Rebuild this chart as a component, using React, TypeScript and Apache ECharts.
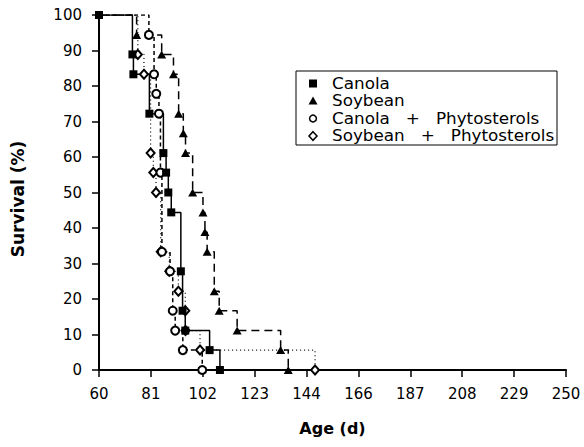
import React, { useEffect, useRef } from "react";
import * as echarts from "echarts";

// Age axis: 60..250 days in 9 equal steps (labels rounded)
const AGE_MIN = 60;
const AGE_MAX = 250;
const AGE_STEPS = 9;

const canolaAge = [60, 73.6, 74.0, 80.5, 86.2, 87.3, 88.2, 89.4, 93.3, 94.0, 95.1, 105.0, 109.2];
const canolaSurv = [100, 88.9, 83.3, 72.2, 61.1, 55.6, 50.0, 44.4, 27.8, 16.7, 11.1, 5.6, 0];

const soyAge = [60, 75.3, 85.5, 90.3, 92.4, 94.3, 95.2, 98.1, 102.3, 103.1, 104.0, 106.9, 108.9, 116.2, 133.9, 137.0];
const soySurv = [100, 94.4, 88.9, 83.3, 72.2, 66.7, 61.1, 50.0, 44.4, 38.9, 33.3, 22.2, 16.7, 11.1, 5.6, 0];

const canolaPhytoAge = [60, 80.3, 82.4, 83.3, 84.4, 85.0, 85.6, 88.9, 90.0, 91.0, 94.1, 102.0];
const canolaPhytoSurv = [100, 94.4, 83.3, 77.8, 72.2, 55.6, 33.3, 27.8, 16.7, 11.1, 5.6, 0];

const soyPhytoAge = [60, 75.8, 78.3, 81.0, 82.1, 83.2, 85.1, 88.6, 92.3, 95.1, 95.2, 101.1, 147.9];
const soyPhytoSurv = [100, 88.9, 83.3, 61.1, 55.6, 50.0, 33.3, 27.8, 22.2, 16.7, 11.1, 5.6, 0];

const names = ["Canola", "Soybean", "Canola   +   Phytosterols", "Soybean   +   Phytosterols"];

const toUnit = (age: number) => ((age - AGE_MIN) / (AGE_MAX - AGE_MIN)) * AGE_STEPS;

const build = (ages: number[], surv: number[], hideFirst: boolean) =>
  ages.map((a, i) =>
    i === 0 && hideFirst
      ? { value: [toUnit(a), surv[i]], symbol: "none" }
      : { value: [toUnit(a), surv[i]] }
  );

const FONT = "DejaVu Sans";

// legend layout
const LX = 296;
const LY = 71;
const LW = 261;
const LH = 74;
const ROWS = [83.5, 101, 118.5, 136];
const ICON_X = 313;
const TEXT_X = 332;

export default function App() {
  const ref = useRef<HTMLDivElement>(null);
  useEffect(() => {
    if (!ref.current) return;
    const chart = echarts.init(ref.current, null, { renderer: "svg" });
    const legendGraphics: any[] = [
      {
        type: "rect",
        z: 100,
        shape: { x: LX, y: LY, width: LW, height: LH },
        style: { fill: "#fff", stroke: "#000", lineWidth: 1 },
      },
      {
        type: "rect",
        z: 101,
        shape: { x: ICON_X - 4, y: ROWS[0] - 4, width: 8, height: 8 },
        style: { fill: "#000" },
      },
      {
        type: "polygon",
        z: 101,
        shape: {
          points: [
            [ICON_X, ROWS[1] - 4.5],
            [ICON_X + 4.5, ROWS[1] + 3.5],
            [ICON_X - 4.5, ROWS[1] + 3.5],
          ],
        },
        style: { fill: "#000" },
      },
      {
        type: "circle",
        z: 101,
        shape: { cx: ICON_X, cy: ROWS[2], r: 3.4 },
        style: { fill: "#fff", stroke: "#000", lineWidth: 1.5 },
      },
      {
        type: "polygon",
        z: 101,
        shape: {
          points: [
            [ICON_X, ROWS[3] - 4.3],
            [ICON_X + 4, ROWS[3]],
            [ICON_X, ROWS[3] + 4.3],
            [ICON_X - 4, ROWS[3]],
          ],
        },
        style: { fill: "#fff", stroke: "#000", lineWidth: 1.5 },
      },
      ...names.map((n, i) => ({
        type: "text",
        z: 101,
        x: TEXT_X,
        y: ROWS[i],
        scaleX: 1.12,
        style: {
          text: n,
          fill: "#000",
          fontSize: 15,
          fontFamily: FONT,
          verticalAlign: "middle",
          align: "left",
        },
      })),
    ];
    const option: any = {
      animation: false,
      backgroundColor: "#fff",
      textStyle: { fontFamily: FONT, color: "#000" },
      grid: { left: 99, right: 18, top: 15, bottom: 77, containLabel: false },
      graphic: legendGraphics,
      xAxis: {
        type: "value",
        min: 0,
        max: AGE_STEPS,
        interval: 1,
        name: "Age (d)",
        nameLocation: "middle",
        nameGap: 50,
        nameTextStyle: { fontSize: 16, fontWeight: "bold", color: "#000", fontFamily: FONT },
        axisLine: { show: true, lineStyle: { color: "#000", width: 2 } },
        axisTick: { show: true, length: 7, lineStyle: { color: "#000", width: 1.5 } },
        axisLabel: {
          fontSize: 15,
          color: "#000",
          margin: 16,
          fontFamily: FONT,
          formatter: (v: number) => String(Math.round(AGE_MIN + (v * (AGE_MAX - AGE_MIN)) / AGE_STEPS)),
        },
        splitLine: { show: false },
      },
      yAxis: {
        type: "value",
        min: 0,
        max: 100,
        interval: 10,
        name: "Survival (%)",
        nameLocation: "middle",
        nameGap: 73,
        nameTextStyle: {
          fontSize: 17,
          fontWeight: "bold",
          color: "#000",
          fontFamily: FONT,
          padding: [0, 13, 0, 0],
        },
        axisLine: { show: true, lineStyle: { color: "#000", width: 2 } },
        axisTick: { show: true, length: 7, lineStyle: { color: "#000", width: 1.5 } },
        axisLabel: { fontSize: 15, color: "#000", margin: 17, fontFamily: FONT },
        splitLine: { show: false },
      },
      series: [
        {
          name: names[3],
          type: "line",
          step: "end",
          data: build(soyPhytoAge, soyPhytoSurv, true),
          symbol: "emptyDiamond",
          symbolSize: [8, 9],
          lineStyle: { color: "#000", width: 1.2, type: [1, 3] },
          itemStyle: { color: "#000", borderColor: "#000", borderWidth: 1.5 },
        },
        {
          name: names[2],
          type: "line",
          step: "end",
          data: build(canolaPhytoAge, canolaPhytoSurv, true),
          symbol: "emptyCircle",
          symbolSize: 8,
          lineStyle: { color: "#000", width: 1.5, type: [4, 3] },
          itemStyle: { color: "#000", borderColor: "#000", borderWidth: 1.5 },
        },
        {
          name: names[1],
          type: "line",
          step: "end",
          data: build(soyAge, soySurv, true),
          symbol: "triangle",
          symbolSize: [9, 8],
          lineStyle: { color: "#000", width: 1.5, type: [8, 5] },
          itemStyle: { color: "#000", borderColor: "#000", borderWidth: 0 },
        },
        {
          name: names[0],
          type: "line",
          step: "end",
          data: build(canolaAge, canolaSurv, false),
          symbol: "rect",
          symbolSize: 8,
          lineStyle: { color: "#000", width: 1.5, type: "solid" },
          itemStyle: { color: "#000", borderColor: "#000", borderWidth: 0 },
        },
      ],
    };
    chart.setOption(option);
    return () => chart.dispose();
  }, []);
  return (
    <div
      ref={ref}
      style={{ position: "fixed", left: 0, top: 0, width: 584, height: 447, background: "#fff" }}
    />
  );
}
